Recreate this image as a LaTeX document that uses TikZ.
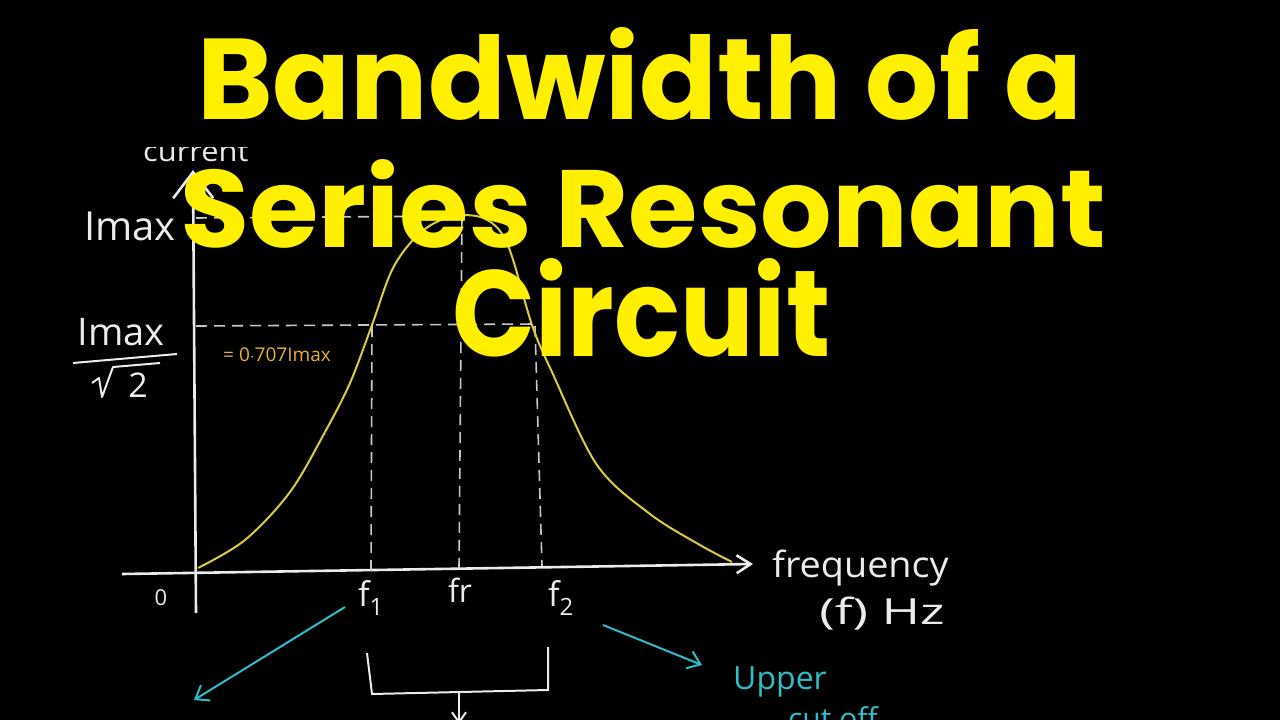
\documentclass[tikz,border=0pt]{standalone}
\usepackage{fontspec}
\usepackage{graphicx}
\usetikzlibrary{arrows.meta}
\newfontfamily\titlefont{Poppins}
\newfontfamily\hand{Open Sans}
\definecolor{ttl}{RGB}{255,240,0}
\definecolor{chalk}{RGB}{235,235,235}
\definecolor{curvey}{RGB}{218,205,60}
\definecolor{orng}{RGB}{228,178,48}
\definecolor{cyn}{RGB}{45,190,200}
\tikzset{
  axis/.style={chalk, line width=2.6pt},
  guide/.style={chalk!85!black, line width=1.6pt, dash pattern=on 11pt off 7pt},
  curveline/.style={curvey, line width=2pt},
  cyanarrow/.style={cyn, line width=2pt, -{Straight Barb[length=12pt,width=18pt,line width=2pt]}},
  bracketline/.style={chalk, line width=2pt},
  handtext/.style={chalk, inner sep=0pt, font=\hand},
  ttlnode/.style={ttl, inner sep=0pt, anchor=south west, font=\titlefont\bfseries}
}
\begin{document}
\begin{tikzpicture}[x=1pt,y=-1pt]
\fill[black] (0,0) rectangle (1280,720);
\useasboundingbox (0,0) rectangle (1280,720);

% y-axis label, partly hidden
\begin{scope}
\clip (100,147) rectangle (320,200);
\node[handtext, anchor=base west, font=\hand\fontsize{28}{28}\selectfont, xscale=1.1] (cur) at (143,161) {current};
\end{scope}

% axes
\coordinate (xs) at (122,574);
\coordinate (xe) at (753,564);
\coordinate (ys) at (196,613);
\coordinate (ye) at (193,170);
\draw[axis, -{Straight Barb[length=14pt,width=18pt,line width=2.6pt]}] (xs) -- (xe);
\draw[axis, -{Straight Barb[length=26pt,width=40pt,line width=2.6pt]}] (ys) -- (ye);

% guide lines
\coordinate (imaxL) at (196,218);
\coordinate (peak) at (462,216);
\coordinate (hpL) at (196,326);
\coordinate (hpR) at (536,324);
\coordinate (f1top) at (372,326);
\coordinate (f1bot) at (371,570);
\coordinate (frbot) at (459,568);
\coordinate (f2top) at (535,326);
\coordinate (f2bot) at (542,566);
\draw[guide] (imaxL) -- (peak);
\draw[guide] (hpL) -- (hpR);
\draw[guide] (f1top) -- (f1bot);
\draw[guide] (peak) -- (frbot);
\draw[guide] (f2top) -- (f2bot);

% response curve
\draw[curveline] plot[smooth, tension=0.55] coordinates {
 (198,568) (245,540) (290,492) (325,432) (350,383) (372,325) (393,268)
 (420,233) (450,217) (483,218) (507,243) (532,325) (552,372)
 (597,465) (650,514) (700,545) (732,562)};

% left labels
\node[handtext, font=\hand\fontsize{40}{40}\selectfont] (imax) at (130,226) {Imax};
\node[handtext, font=\hand\fontsize{38}{38}\selectfont] (imaxn) at (121,332) {Imax};
\coordinate (fbl) at (73,363);
\coordinate (fbr) at (177,354);
\draw[bracketline] (fbl) -- (fbr);
\coordinate (r1) at (92,383);
\coordinate (r2) at (99,378);
\coordinate (r3) at (102,397);
\coordinate (r4) at (113,367);
\coordinate (r5) at (160,363);
\draw[bracketline, line join=round] (r1) -- (r2) -- (r3) -- (r4) -- (r5);
\node[handtext, font=\hand\fontsize{34}{34}\selectfont] (two) at (138,385) {2};
\node[orng, inner sep=0pt, font=\hand\fontsize{19}{19}\selectfont] (eq) at (277,355) {= 0$\cdot$707Imax};

% axis tick labels
\node[handtext, font=\hand\fontsize{22}{22}\selectfont] (zero) at (161,598) {0};
\node[handtext, font=\hand\fontsize{34}{34}\selectfont] (f1) at (371,598) {f\textsubscript{1}};
\node[handtext, font=\hand\fontsize{32}{32}\selectfont] (fr) at (460,590) {fr};
\node[handtext, font=\hand\fontsize{34}{34}\selectfont] (f2) at (561,598) {f\textsubscript{2}};

% right labels
\node[handtext, anchor=base west, font=\hand\fontsize{36}{36}\selectfont, xscale=1.05] (freq) at (772,577) {frequency};
\node[handtext, font=\hand\fontsize{36}{36}\selectfont, xscale=1.45] (fhz) at (882,614) {(f) Hz};

% cyan arrows and bottom text
\coordinate (la0) at (345,607);
\coordinate (la1) at (194,700);
\draw[cyanarrow] (la0) -- (la1);
\coordinate (ra0) at (603,625);
\coordinate (ra1) at (702,665);
\draw[cyanarrow] (ra0) -- (ra1);
\node[cyn, inner sep=0pt, font=\hand\fontsize{32}{32}\selectfont] (upper) at (780,682) {Upper};
\node[cyn, inner sep=0pt, anchor=north west, font=\hand\fontsize{30}{30}\selectfont] (cutoff) at (788,706) {cut off};

% bandwidth bracket
\coordinate (b1) at (367,653);
\coordinate (b2) at (372,694);
\coordinate (b3) at (548,690);
\coordinate (b4) at (548,647);
\draw[bracketline] (b1) -- (b2) -- (b3) -- (b4);
\coordinate (bm) at (459,692);
\coordinate (bd) at (459,724);
\draw[bracketline, -{Straight Barb[length=10pt,width=14pt,line width=2pt]}] (bm) -- (bd);

% title
\node[ttlnode] (t1) at (197,121) {\resizebox{885pt}{92pt}{\titlefont\bfseries Bandwidth of a}};
\node[ttlnode] (t2) at (180,249) {\resizebox{925pt}{88pt}{\titlefont\bfseries Series Resonant}};
\node[ttlnode] (t3) at (452,358) {\resizebox{378pt}{98pt}{\titlefont\bfseries Circuit}};
\end{tikzpicture}
\end{document}
